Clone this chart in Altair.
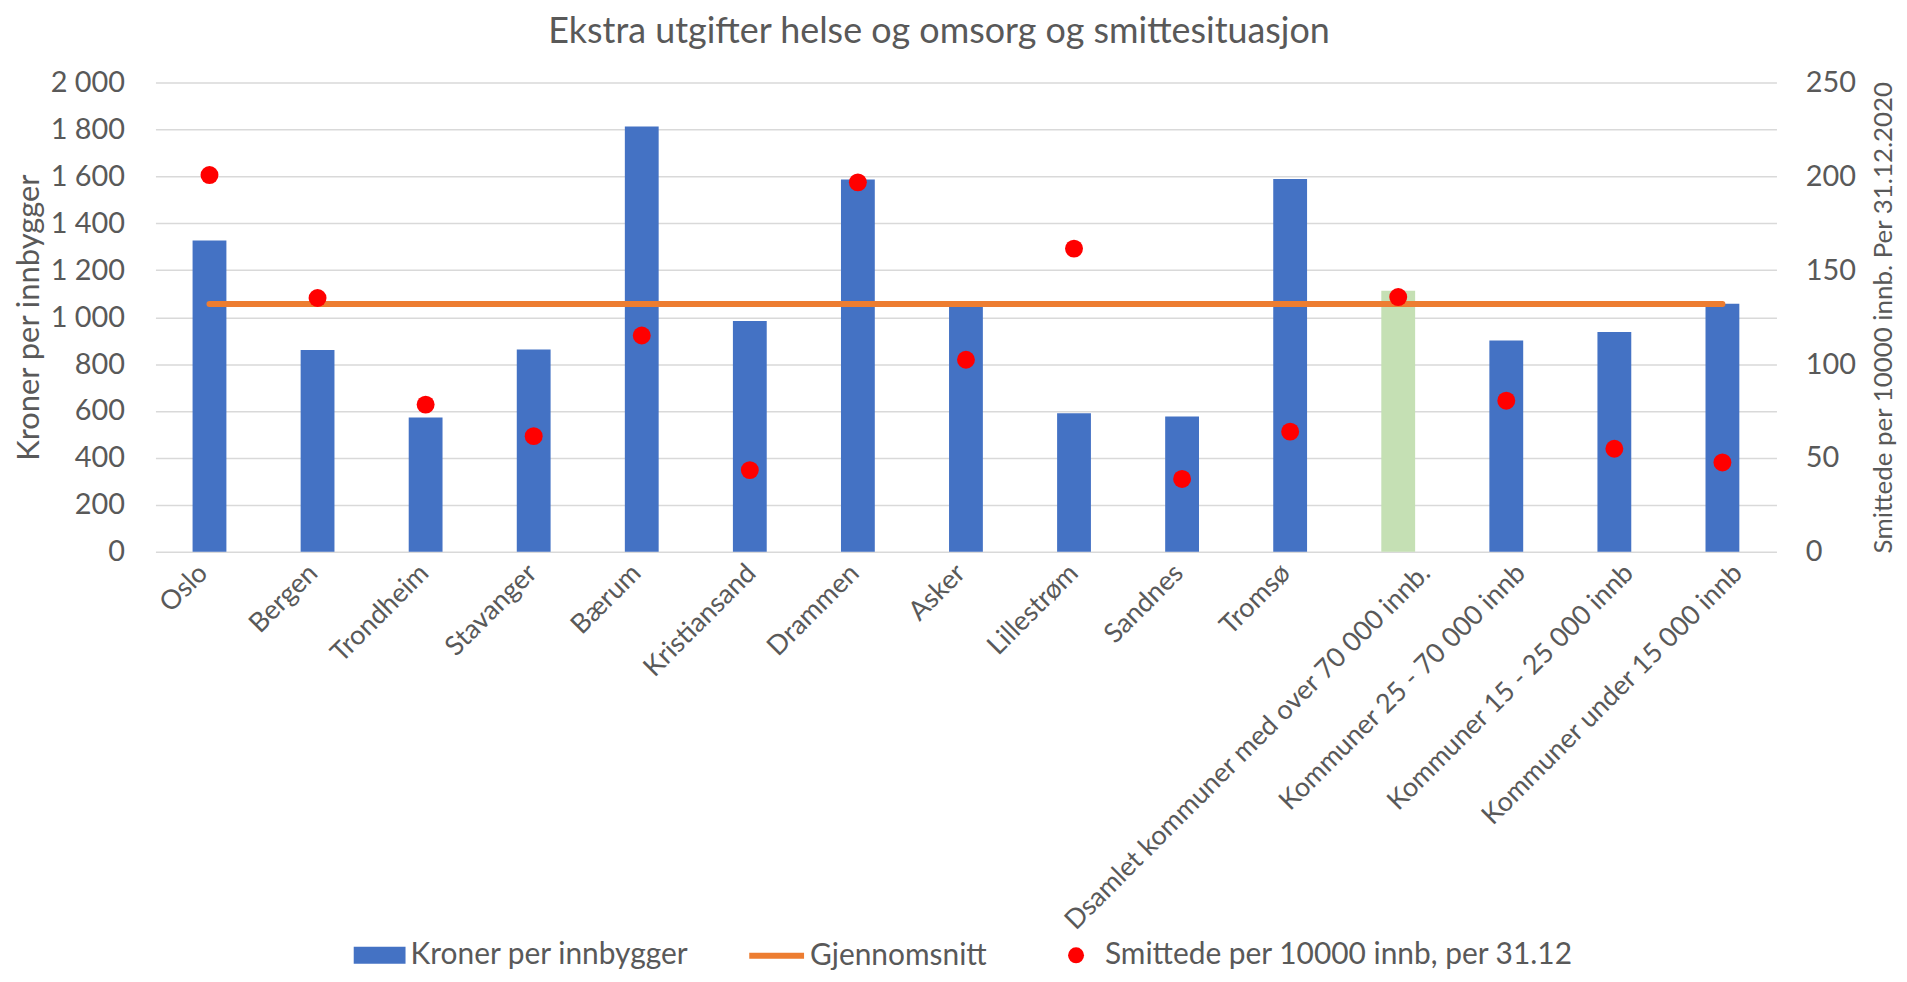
import altair as alt
import pandas as pd

# ---- data ----
kategorier = [
    "Oslo", "Bergen", "Trondheim", "Stavanger", "Bærum", "Kristiansand",
    "Drammen", "Asker", "Lillestrøm", "Sandnes", "Tromsø",
    "Dsamlet kommuner med over 70 000 innb.",
    "Kommuner 25 - 70 000 innb", "Kommuner 15 - 25 000 innb",
    "Kommuner under 15 000 innb",
]
kroner = [1327, 860, 572, 862, 1812, 984, 1587, 1065, 590, 577, 1589, 1112, 900, 937, 1057]
smittede = [200.7, 135.2, 78.4, 61.6, 115.2, 43.5, 196.8, 102.3, 161.5, 38.8, 64.0, 135.7, 80.5, 54.9, 47.6]
gjennomsnitt = 1056
uthevet = "Dsamlet kommuner med over 70 000 innb."

SERIE_BAR = "Kroner per innbygger"
SERIE_SNITT = "Gjennomsnitt"
SERIE_SMITTE = "Smittede per 10000 innb, per 31.12"

df = pd.DataFrame({
    "kategori": kategorier,
    "kroner": kroner,
    "smittede": smittede,
    "snitt": [gjennomsnitt] * len(kategorier),
    "serie_bar": [("Samlet" if k == uthevet else SERIE_BAR) for k in kategorier],
    "serie_snitt": [SERIE_SNITT] * len(kategorier),
    "serie_smitte": [SERIE_SMITTE] * len(kategorier),
})

FONT = "Lato"
GREY = "#595959"
BLUE = "#4472C4"
GREEN = "#C5E0B4"
ORANGE = "#ED7D31"
RED = "#FF0000"
GRID = "#D9D9D9"

W, H = 1627, 471

x_enc = alt.X(
    "kategori:N", sort=kategorier,
    scale=alt.Scale(paddingInner=0.687, paddingOuter=0.3435),
    axis=alt.Axis(title=None, labelAngle=315, labelAlign="right", labelBaseline="middle",
                  labelFontSize=27, labelFont=FONT, labelColor=GREY, domain=False,
                  ticks=False, tickSize=0, labelPadding=17, labelLimit=0, grid=False,
                  labelOffset={"expr": "length(datum.label) - 10"}),
)

left_axis = alt.Axis(
    values=list(range(0, 2001, 200)), title="Kroner per innbygger",
    labelExpr="replace(format(datum.value, ','), ',', ' ')",
    labelFontSize=29, labelFont=FONT, labelColor=GREY,
    titleFontSize=31, titleFont=FONT, titleColor=GREY, titleFontWeight="normal",
    titleX=-126, titleY=H / 2, titleAngle=270, titleBaseline="middle", titleAlign="center",
    domain=False, ticks=False, tickSize=0, labelPadding=31,
    grid=True, gridColor=GRID, gridWidth=1.5,
)
left_scale = alt.Scale(domain=[0, 2000], nice=False)

legend_common = dict(title=None, orient="none", labelFont=FONT, labelFontSize=30,
                     labelColor=GREY, padding=0, labelLimit=0)

bars = alt.Chart(df).mark_bar().encode(
    x=x_enc,
    y=alt.Y("kroner:Q", scale=left_scale, axis=left_axis),
    color=alt.Color(
        "serie_bar:N",
        scale=alt.Scale(domain=[SERIE_BAR, "Samlet"], range=[BLUE, GREEN]),
        legend=alt.Legend(values=[SERIE_BAR], legendX=199, legendY=850,
                          symbolType="M-1,-0.33H1V0.33H-1Z", symbolSize=2704,
                          symbolStrokeWidth=0, labelOffset=5, **legend_common),
    ),
)

line = alt.Chart(df).mark_line(strokeWidth=6, strokeCap="round").encode(
    x=alt.X("kategori:N", sort=kategorier),
    y=alt.Y("snitt:Q", scale=left_scale, axis=left_axis),
    stroke=alt.Stroke(
        "serie_snitt:N",
        scale=alt.Scale(domain=[SERIE_SNITT], range=[ORANGE]),
        legend=alt.Legend(legendX=593, legendY=846, symbolType="stroke",
                          symbolSize=3025, symbolStrokeWidth=6, labelOffset=3,
                          **legend_common),
    ),
)

left = alt.layer(bars, line)

points = alt.Chart(df).mark_circle(size=324, opacity=1).encode(
    x=alt.X("kategori:N", sort=kategorier),
    y=alt.Y(
        "smittede:Q", scale=alt.Scale(domain=[0, 250], nice=False),
        axis=alt.Axis(orient="right", values=[0, 50, 100, 150, 200, 250],
                      title="Smittede per 10000 innb. Per 31.12.2020",
                      labelFontSize=29, labelFont=FONT, labelColor=GREY,
                      titleFontSize=26, titleFont=FONT, titleColor=GREY,
                      titleFontWeight="normal", titleX=107, titleY=H / 2,
                      titleAngle=270, titleBaseline="middle", titleAlign="center",
                      domain=False, ticks=False, tickSize=0, labelPadding=29, grid=False),
    ),
    fill=alt.Fill(
        "serie_smitte:N",
        scale=alt.Scale(domain=[SERIE_SMITTE], range=[RED]),
        legend=alt.Legend(legendX=909, legendY=861, symbolType="circle",
                          symbolSize=256, symbolStrokeWidth=0, labelOffset=14,
                          **legend_common),
    ),
)

chart = alt.layer(left, points).resolve_scale(y="independent").properties(
    width=W, height=H,
    title=alt.TitleParams(
        "Ekstra utgifter helse og omsorg og smittesituasjon",
        fontSize=36, font=FONT, color=GREY, fontWeight="normal",
        anchor="middle", frame="group", offset=18, dx=-27,
    ),
    autosize=alt.AutoSizeParams(type="none"),
    padding={"left": 148, "top": 73, "right": 123, "bottom": 418},
    background="white",
).configure_view(stroke=None)

chart.save("out.html", embed_options={"renderer": "svg", "actions": False})
